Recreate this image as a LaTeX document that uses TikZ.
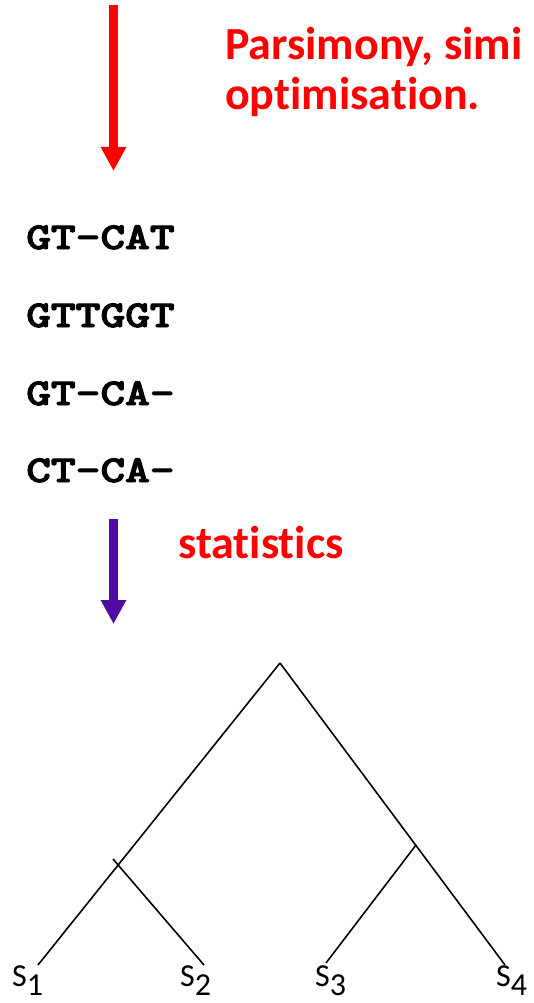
\documentclass[tikz,border=0pt]{standalone}
\usepackage{fontspec}
\setmainfont{Carlito}[Ligatures={NoCommon,NoContextual}]
\newfontfamily\seqfont{lmmonolt10-bold.otf}[RawFeature={embolden=2.5}]
\usetikzlibrary{arrows.meta}
\definecolor{arrowred}{RGB}{255,0,0}
\definecolor{arrowpurple}{RGB}{78,12,160}
\tikzset{
  bigarrow/.style={line width=9pt, -{Triangle[width=24pt,length=24pt]}},
  redlabel/.style={anchor=base west, inner sep=0pt, text=arrowred, font=\fontsize{46}{46}\selectfont\bfseries},
  seqtext/.style={anchor=base west, inner sep=0pt, font=\seqfont\fontsize{38}{38}\selectfont},
  branch/.style={line width=1.6pt, black},
  leaflabel/.style={anchor=base west, inner sep=0pt, font=\fontsize{32}{32}\selectfont}
}
\newcommand{\leafname}[1]{S\raisebox{-9pt}{#1}}
\newcommand{\seqword}[1]{\scalebox{1.24}[1]{#1}}
\begin{document}
\begin{tikzpicture}[x=1pt,y=-1pt]
\useasboundingbox (0,0) rectangle (534,1003);
% arrows
\coordinate (a1top) at (113.5,5);
\coordinate (a1tip) at (113.5,171);
\coordinate (a2top) at (113.5,519);
\coordinate (a2tip) at (113.5,624);
\draw[bigarrow, draw=arrowred, fill=arrowred] (a1top) -- (a1tip);
\draw[bigarrow, draw=arrowpurple, fill=arrowpurple] (a2top) -- (a2tip);
% red texts
\node[redlabel] (pars) at (225,60) {Parsimony, simi};
\node[redlabel] (optim) at (225,110) {optimisation.};
\node[redlabel] (stat) at (178,558) {statistics};
% sequences
\node[seqtext] (seq1) at (26,249) {\seqword{GT-CAT}};
\node[seqtext] (seq2) at (26,327) {\seqword{GTTGGT}};
\node[seqtext] (seq3) at (26,405) {\seqword{GT-CA-}};
\node[seqtext] (seq4) at (26,482) {\seqword{CT-CA-}};
% tree
\coordinate (root) at (280,663);
\coordinate (n12) at (113,859);
\coordinate (n34) at (416,845);
\coordinate (l1) at (38,965);
\coordinate (l2) at (204,965);
\coordinate (l3) at (326,963);
\coordinate (l4) at (505,965);
\draw[branch] (root) -- (l1);
\draw[branch] (n12) -- (l2);
\draw[branch] (root) -- (l4);
\draw[branch] (n34) -- (l3);
% leaf labels
\node[leaflabel] (s1) at (12,986) {\leafname{1}};
\node[leaflabel] (s2) at (180,986) {\leafname{2}};
\node[leaflabel] (s3) at (315,986) {\leafname{3}};
\node[leaflabel] (s4) at (496,986) {\leafname{4}};
\end{tikzpicture}
\end{document}
